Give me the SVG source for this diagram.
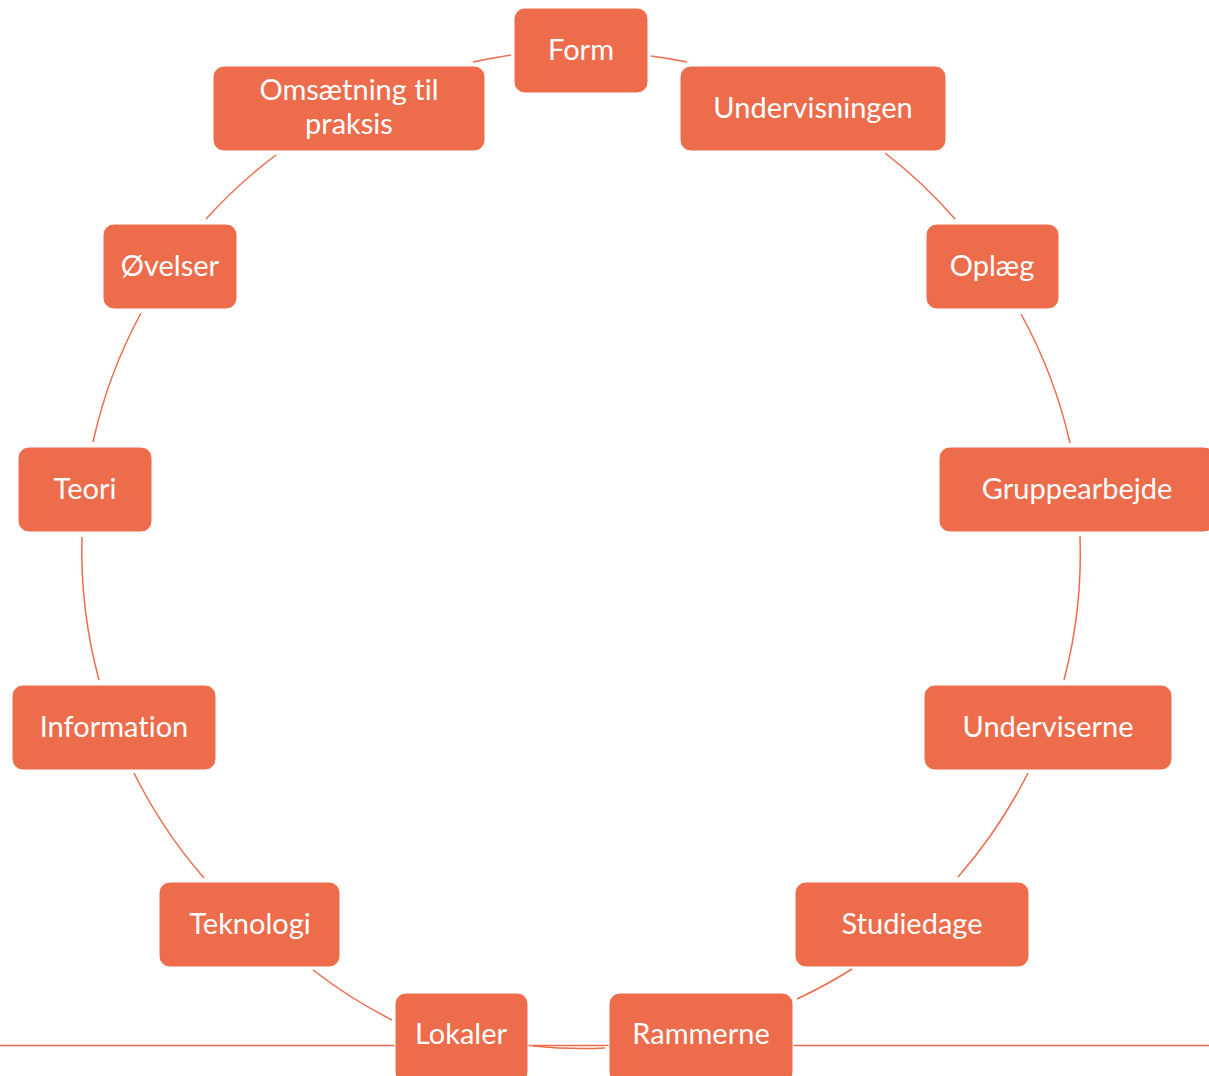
<svg xmlns="http://www.w3.org/2000/svg" width="1209" height="1076" viewBox="0 0 1209 1076">
<style>
.n rect{fill:#EC6C4C;stroke:#ffffff;stroke-width:1}
.n text{fill:#ffffff;font-family:Lato,"Open Sans","Liberation Sans",sans-serif;font-size:29px;text-anchor:middle;font-variant-ligatures:none}
.c path{fill:none;stroke:#EC6C4C;stroke-width:1.5}
</style>
<rect width="1209" height="1076" fill="#ffffff"/>
<g id="connectors" class="c">
<path d="M0 1045.5 H1209"/>
<path d="M651 56 A495 495 0 0 1 687 62"/>
<path d="M885 153 A495 495 0 0 1 955 219"/>
<path d="M1021 314 A495 495 0 0 1 1070 443"/>
<path d="M1080 536 A495 495 0 0 1 1064 680"/>
<path d="M1028 773 A495 495 0 0 1 958 877"/>
<path d="M852 969 A495 495 0 0 1 797 999"/>
<path d="M605 1048 A495 495 0 0 1 533 1046"/>
<path d="M392 1020 A495 495 0 0 1 313 970"/>
<path d="M204 878 A495 495 0 0 1 134 773"/>
<path d="M99 680 A495 495 0 0 1 82 537"/>
<path d="M93 442 A495 495 0 0 1 141 313"/>
<path d="M206 219 A495 495 0 0 1 276 155"/>
<path d="M473 62 A495 495 0 0 1 511 55"/>
</g>
<g id="form" class="n"><rect x="514" y="8" width="134" height="85" rx="11"/><text x="581" y="60">Form</text></g>
<g id="undervisningen" class="n"><rect x="680" y="66" width="266" height="85" rx="11"/><text x="813" y="118">Undervisningen</text></g>
<g id="oplaeg" class="n"><rect x="926" y="224" width="133" height="85" rx="11"/><text x="992" y="276">Oplæg</text></g>
<g id="gruppearbejde" class="n"><rect x="939" y="447" width="276" height="85" rx="11"/><text x="1077" y="499">Gruppearbejde</text></g>
<g id="underviserne" class="n"><rect x="924" y="685" width="248" height="85" rx="11"/><text x="1048" y="737">Underviserne</text></g>
<g id="studiedage" class="n"><rect x="795" y="882" width="234" height="85" rx="11"/><text x="912" y="934">Studiedage</text></g>
<g id="rammerne" class="n"><rect x="609" y="993" width="184" height="90" rx="11"/><text x="701" y="1044">Rammerne</text></g>
<g id="lokaler" class="n"><rect x="395" y="993" width="133" height="90" rx="11"/><text x="461" y="1044">Lokaler</text></g>
<g id="teknologi" class="n"><rect x="159" y="882" width="181" height="85" rx="11"/><text x="250" y="934">Teknologi</text></g>
<g id="information" class="n"><rect x="12" y="685" width="204" height="85" rx="11"/><text x="114" y="737">Information</text></g>
<g id="teori" class="n"><rect x="18" y="447" width="134" height="85" rx="11"/><text x="85" y="499">Teori</text></g>
<g id="oevelser" class="n"><rect x="103" y="224" width="134" height="85" rx="11"/><text x="170" y="276">Øvelser</text></g>
<g id="omsaetning" class="n"><rect x="213" y="66" width="272" height="85" rx="11"/><text x="349" y="100">Omsætning til</text><text x="349" y="134">praksis</text></g>
</svg>
